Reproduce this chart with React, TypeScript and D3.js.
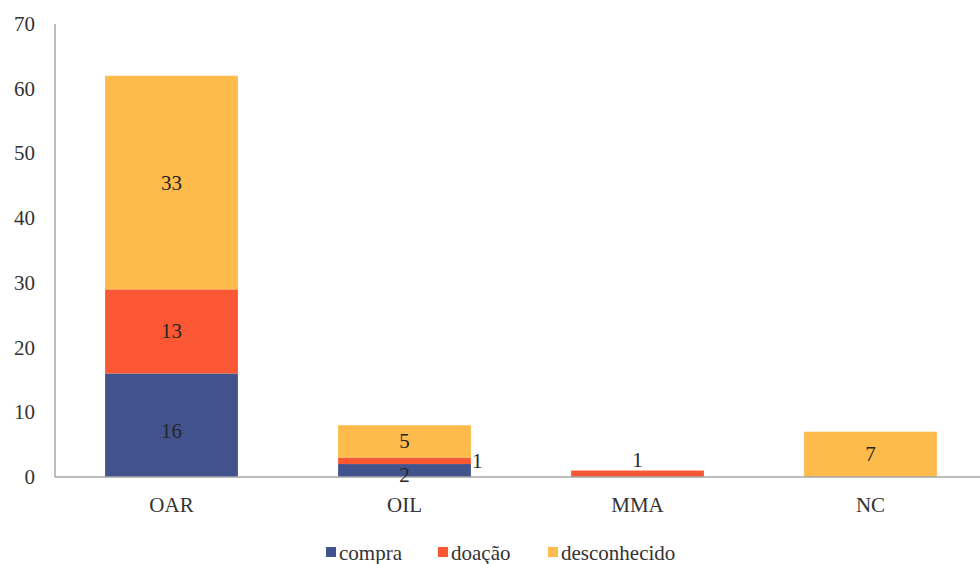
import React from "react";
import * as d3 from "d3";

const categories = ["OAR", "OIL", "MMA", "NC"];
const seriesNames = ["compra", "doação", "desconhecido"];
const compra = [16, 2, 0, 0];
const doacao = [13, 1, 1, 0];
const desconhecido = [33, 5, 0, 7];
const yTicks = [0, 10, 20, 30, 40, 50, 60, 70];
const colors = ["#41528C", "#FA5835", "#FDBB4C"];

const W = 980, H = 564;
const X0 = 55, X1 = 987, Y0 = 477, Y1 = 24;
const FONT = "'Liberation Serif', serif";
const ts: React.CSSProperties = { fontFamily: FONT };
const FS = 21;
const BASE = 7; // baseline offset for vertical centring

export default function App() {
  const x = d3.scaleBand<string>().domain(categories).range([X0, X1]).paddingInner(0.43).paddingOuter(0.215);
  const y = d3.scaleLinear().domain([0, 70]).range([Y0, Y1]);
  const rows = categories.map((c, i) => ({ cat: c, compra: compra[i], doacao: doacao[i], desconhecido: desconhecido[i] }));
  const keys = ["compra", "doacao", "desconhecido"];
  const stack = d3.stack<any>().keys(keys)(rows);

  const legendX = [326, 438, 548];

  return (
    <svg width={W} height={H} fontFamily={FONT} style={{ position: "absolute", left: 0, top: 0, background: "#fff", fontFamily: FONT }}>
      <style>{`text { font-family: 'Liberation Serif', serif; }`}</style>
      {yTicks.map(t => (
        <text key={t} x={35} y={y(t) + BASE} textAnchor="end" fontSize={FS} fill="#333" style={ts}>{t}</text>
      ))}
      {stack.map((s, si) => s.map((d, ci) => {
        const v = d[1] - d[0];
        if (v <= 0) return null;
        const bx = x(categories[ci])!;
        return (
          <rect key={si + "-" + ci} x={bx} y={y(d[1])} width={x.bandwidth()} height={y(d[0]) - y(d[1])} fill={colors[si]} />
        );
      }))}
      <line x1={X0} x2={X1} y1={Y0} y2={Y0} stroke="#a6a6a6" strokeWidth={1.5} />
      <line x1={X0} x2={X0} y1={Y1} y2={Y0} stroke="#a6a6a6" strokeWidth={1.5} />
      {stack.map((s, si) => s.map((d, ci) => {
        const v = d[1] - d[0];
        if (v <= 0) return null;
        const bx = x(categories[ci])!;
        const cx = bx + x.bandwidth() / 2;
        let lx = cx, ly = y((d[0] + d[1]) / 2), anchor: any = "middle";
        if (categories[ci] === "OAR" && si === 0) { ly += 6; }
        if (categories[ci] === "OIL" && si === 1) { lx = bx + x.bandwidth() + 1; anchor = "start"; }
        if (categories[ci] === "OIL" && si === 0) { ly = y(d[1]) + 11; }
        if (categories[ci] === "MMA") { ly = y(d[1]) - 11; }
        return (
          <text key={"l" + si + "-" + ci} x={lx} y={ly + BASE} textAnchor={anchor} fontSize={FS} fill="#262626" style={ts}>{v}</text>
        );
      }))}
      {categories.map(c => (
        <text key={c} x={x(c)! + x.bandwidth() / 2} y={505 + BASE} textAnchor="middle" fontSize={FS} fill="#333" style={ts}>{c}</text>
      ))}
      {seriesNames.map((n, i) => (
        <g key={n}>
          <rect x={legendX[i]} y={547} width={10} height={10} fill={colors[i]} />
          <text x={legendX[i] + 13} y={553 + BASE} fontSize={FS} fill="#333" style={ts}>{n}</text>
        </g>
      ))}
    </svg>
  );
}
